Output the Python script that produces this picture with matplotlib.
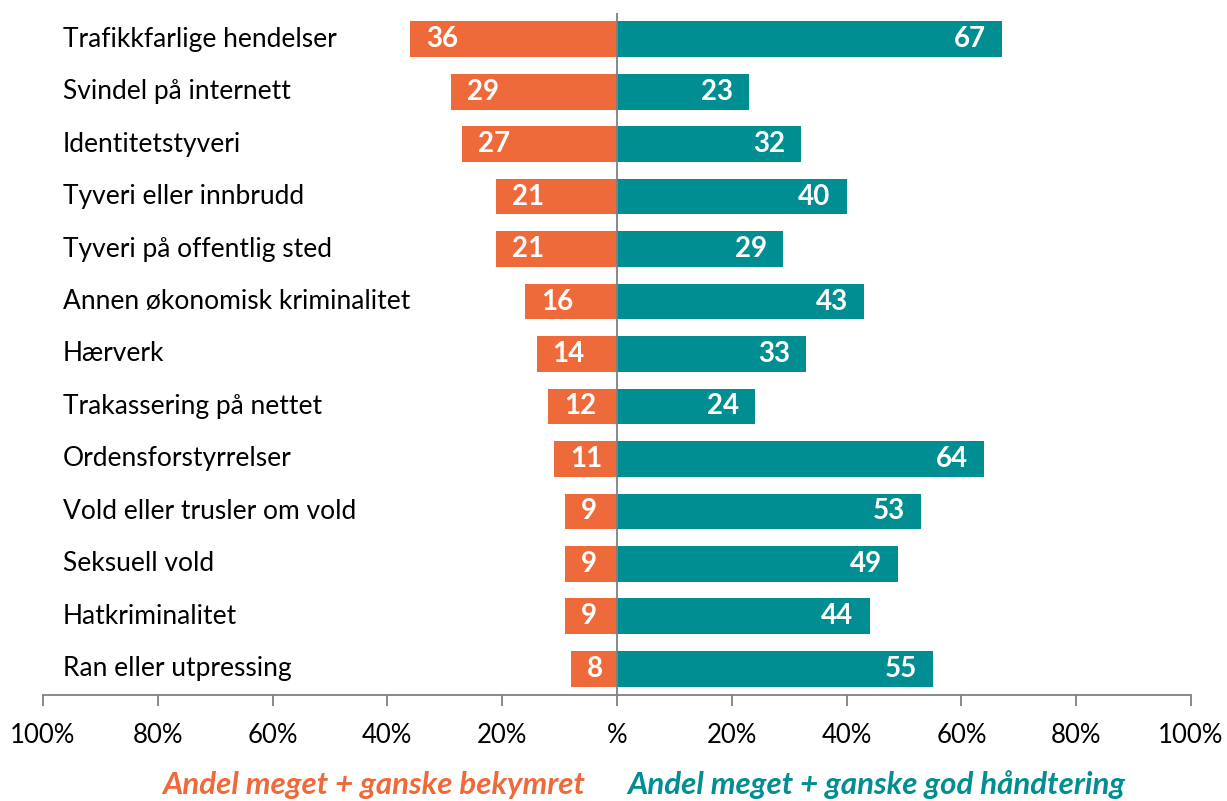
import matplotlib
matplotlib.use("Agg")
import matplotlib.pyplot as plt
import matplotlib.transforms as mtransforms

categories = ["Trafikkfarlige hendelser", "Svindel på internett", "Identitetstyveri",
              "Tyveri eller innbrudd", "Tyveri på offentlig sted", "Annen økonomisk kriminalitet",
              "Hærverk", "Trakassering på nettet", "Ordensforstyrrelser",
              "Vold eller trusler om vold", "Seksuell vold", "Hatkriminalitet", "Ran eller utpressing"]
bekymret = [36, 29, 27, 21, 21, 16, 14, 12, 11, 9, 9, 9, 8]
handtering = [67, 23, 32, 40, 29, 43, 33, 24, 64, 53, 49, 44, 55]
tick_vals = [-100, -80, -60, -40, -20, 0, 20, 40, 60, 80, 100]
tick_labels = ["100%", "80%", "60%", "40%", "20%", "%", "20%", "40%", "60%", "80%", "100%"]
label_left = "Andel meget + ganske bekymret"
label_right = "Andel meget + ganske god håndtering"

ORANGE = "#EF6A3A"
TEAL = "#008E93"
plt.rcParams['font.family'] = ['Lato', 'DejaVu Sans']

fig = plt.figure(figsize=(12.27, 8.01), dpi=100)
ax = fig.add_axes([43/1227, 1 - 695/801, (1191 - 43)/1227, (695 - 13)/801])

n = len(categories)
ys = list(range(n))[::-1]
ax.barh(ys, [-v for v in bekymret], height=0.68, color=ORANGE)
ax.barh(ys, handtering, height=0.68, color=TEAL)

for y, v in zip(ys, bekymret):
    ax.annotate(str(v), xy=(-v, y), xytext=(11.5, 0), textcoords="offset points",
                ha="left", va="center", color="white", fontsize=20, fontweight="bold")
for y, v in zip(ys, handtering):
    ax.annotate(str(v), xy=(v, y), xytext=(-11.5, 0), textcoords="offset points",
                ha="right", va="center", color="white", fontsize=20, fontweight="bold")

trans = mtransforms.blended_transform_factory(fig.transFigure, ax.transData)
for y, c in zip(ys, categories):
    ax.text(63/1227, y, c, transform=trans, fontsize=19, va="center", ha="left",
            color="black")

ax.axvline(0, color="#808080", lw=1.3)
ax.set_xlim(-100, 100)
ax.set_ylim(-0.5, n - 0.5)
ax.set_xticks(tick_vals)
ax.set_xticklabels(tick_labels, fontsize=18.5)
ax.set_yticks([])
for s in ["top", "right", "left"]:
    ax.spines[s].set_visible(False)
ax.spines["bottom"].set_color("#808080")
ax.spines["bottom"].set_linewidth(1.3)
ax.tick_params(axis="x", direction="out", length=8, width=1.3, color="#808080", pad=12)

fig.text(585/1227, 1 - 785/801, label_left, color=ORANGE, fontsize=22.5, fontweight="bold",
         fontstyle="italic", ha="right", va="center")
fig.text(627/1227, 1 - 785/801, label_right, color=TEAL, fontsize=22.5, fontweight="bold",
         fontstyle="italic", ha="left", va="center")

fig.savefig("out.png", dpi=100)
